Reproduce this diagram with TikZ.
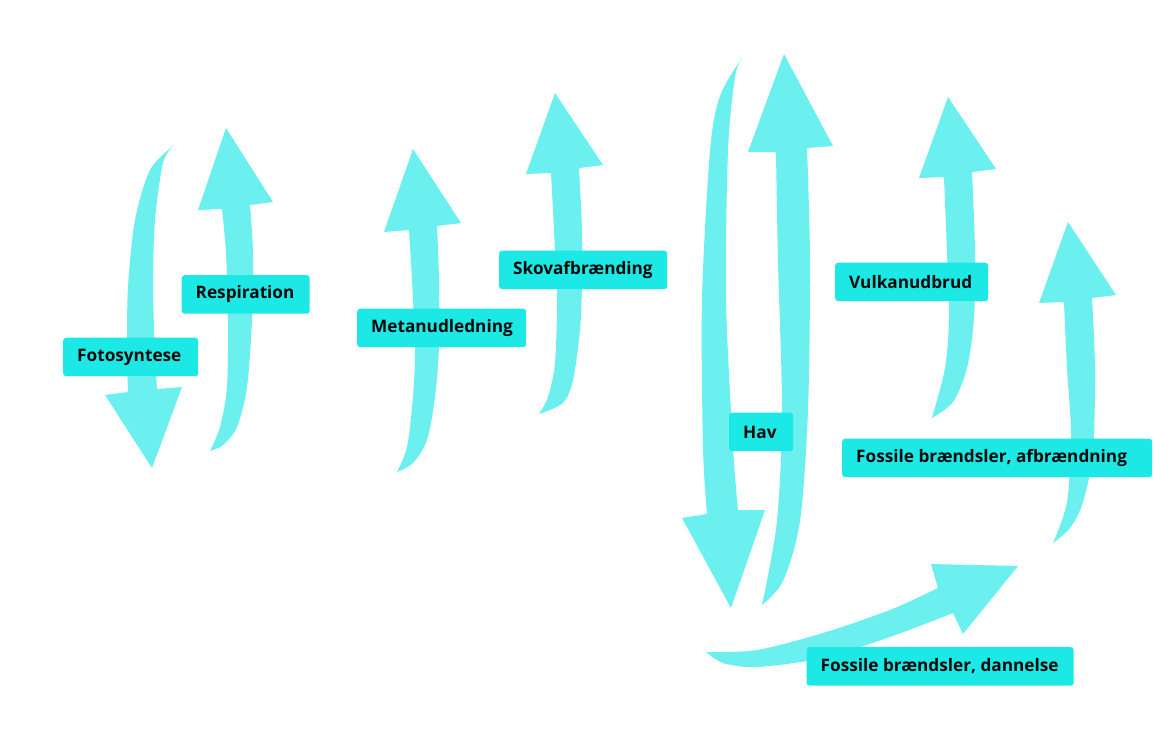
\documentclass[tikz,border=0pt]{standalone}
\usepackage{fontspec}
\setmainfont{Open Sans}
\definecolor{arrowc}{RGB}{107,239,239}
\definecolor{labelc}{RGB}{28,233,230}
\definecolor{textc}{RGB}{10,10,10}
\newcommand{\lbtext}[2]{\makebox[#1][l]{#2}}
\tikzset{
  flow/.style={fill=arrowc, draw=none},
  lbl/.style={fill=labelc, rounded corners=3pt, anchor=north west, inner xsep=14pt, inner ysep=0pt,
    minimum height=38.5pt, text=textc, font=\fontsize{17.2}{20}\selectfont\bfseries},
}
\begin{document}
\begin{tikzpicture}[x=1pt,y=-1pt]
\useasboundingbox (0,0) rectangle (1170,731);
\fill[white] (0,0) rectangle (1170,731);
% Fotosyntese (down)
\fill[flow] (173,146) -- plot[smooth] coordinates {(173,146) (150,170) (135,220) (128,287) (127,353) (128,392)}
  -- (105,395) -- (152,468) -- (182,387) -- (157,389)
  -- plot[smooth] coordinates {(157,389) (155,353) (153,287) (155,220) (163,163) (173,146)} -- cycle;
% Respiration (up)
\fill[flow] (210,451) -- plot[smooth] coordinates {(210,451) (220,427) (227,387) (228,320) (226,253) (222,209)}
  -- (198,210) -- (226,128) -- (273,202) -- (250,205)
  -- plot[smooth] coordinates {(250,205) (253,253) (252,320) (247,387) (237,427) (223,445) (210,451)} -- cycle;
% Metanudledning (up)
\fill[flow] (397,472) -- plot[smooth] coordinates {(397,472) (407,447) (413,397) (415,347) (412,280) (409,230)}
  -- (384,232) -- (413,149) -- (461,223) -- (437,226)
  -- plot[smooth] coordinates {(437,226) (439,280) (439,347) (435,397) (427,440) (413,463) (397,472)} -- cycle;
% Skovafbraending (up)
\fill[flow] (539,414) -- plot[smooth] coordinates {(539,414) (548,397) (555,363) (557,297) (554,230) (551,173)}
  -- (526,174) -- (555,93) -- (603,165) -- (579,168)
  -- plot[smooth] coordinates {(579,168) (582,230) (582,280) (580,330) (573,380) (563,403) (539,414)} -- cycle;
% Vulkanudbrud (up)
\fill[flow] (932,418) -- plot[smooth] coordinates {(932,418) (945,368) (949,318) (947,252) (944,177)}
  -- (919,178) -- (948,97) -- (996,169) -- (972,172)
  -- plot[smooth] coordinates {(972,172) (975,252) (974,318) (967,368) (953,402) (932,418)} -- cycle;
% Fossile afbraendning (up)
\fill[flow] (1053,543) -- plot[smooth] coordinates {(1053,543) (1067,502) (1071,435) (1067,368) (1064,302)}
  -- (1039,303) -- (1068,222) -- (1116,295) -- (1092,298)
  -- plot[smooth] coordinates {(1092,298) (1095,368) (1093,452) (1083,502) (1070,528) (1053,543)} -- cycle;
% Hav (down)
\fill[flow] (742,58) -- plot[smooth] coordinates {(742,58) (720,96) (710,151) (702,299) (703,447) (707,514)}
  -- (682,518) -- (731,608) -- (765,510) -- (738,510)
  -- plot[smooth] coordinates {(738,510) (733,447) (726,299) (728,151) (735,77) (742,58)} -- cycle;
% Hav (up)
\fill[flow] (762,605) -- plot[smooth] coordinates {(762,605) (777,521) (782,410) (778,262) (776,152)}
  -- (748,152) -- (784,54) -- (833,146) -- (807,148)
  -- plot[smooth] coordinates {(807,148) (810,262) (808,410) (800,521) (783,581) (762,605)} -- cycle;
% Fossile dannelse (right)
\fill[flow] (706,652) -- plot[smooth] coordinates {(706,652) (757,650) (823,633) (890,610) (938,588)}
  -- (931,564) -- (1018,566) -- (963,634) -- (953,613)
  -- plot[smooth] coordinates {(953,613) (890,637) (823,658) (757,667) (723,663) (706,652)} -- cycle;
% labels
\node[lbl] (resp) at (181.5,275) {\lbtext{100pt}{Respiration}};
\node[lbl] (foto) at (63,337.5) {\lbtext{107pt}{Fotosyntese}};
\node[lbl] (meta) at (357,308.5) {\lbtext{141pt}{Metanudledning}};
\node[lbl] (skov) at (499,250.5) {\lbtext{140pt}{Skovafbrænding}};
\node[lbl] (vulk) at (835,262.5) {\lbtext{125pt}{Vulkanudbrud}};
\node[lbl] (fafb) at (842,438.5) {\lbtext{282pt}{Fossile brændsler, afbrændning}};
\node[lbl] (hav) at (729,412.5) {\lbtext{36pt}{Hav}};
\node[lbl] (fdan) at (806.5,647) {\lbtext{239pt}{Fossile brændsler, dannelse}};
\end{tikzpicture}
\end{document}
